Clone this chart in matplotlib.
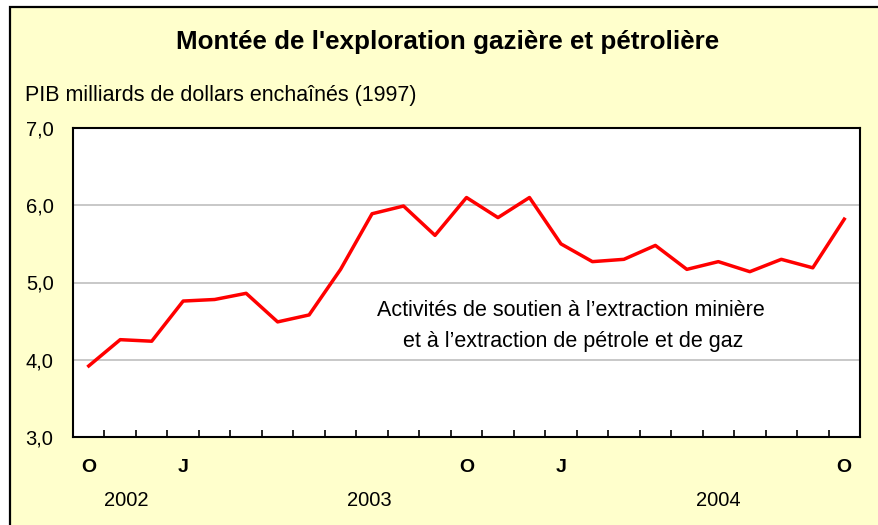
import matplotlib.pyplot as plt
from matplotlib.patches import Rectangle

plt.rcParams['font.family'] = ['Liberation Sans', 'DejaVu Sans']

# Monthly data, Oct 2002 - Oct 2004
values = [3.92, 4.26, 4.24, 4.76, 4.78, 4.86, 4.49, 4.58, 5.17, 5.89, 5.99, 5.61,
          6.10, 5.84, 6.10, 5.50, 5.27, 5.30, 5.48, 5.17, 5.27, 5.14, 5.30, 5.19, 5.82]
month_labels = {0: 'O', 3: 'J', 12: 'O', 15: 'J', 24: 'O'}
years = ['2002', '2003', '2004']
year_pos = [1.2, 8.9, 20.0]
y_ticks = [3.0, 4.0, 5.0, 6.0, 7.0]
note = ["Activités de soutien à l’extraction minière",
        "et à l’extraction de pétrole et de gaz"]

W, H = 879, 525
fig = plt.figure(figsize=(W / 100, H / 100), dpi=100)
fig.patch.set_facecolor('white')

# yellow panel with black border on left/top
fig.patches.append(Rectangle((10 / W, -0.1), 1.2, 1.1 - 7 / H, transform=fig.transFigure,
                             facecolor='#FFFFCC', edgecolor='black', lw=1.6, zorder=0))

ax = fig.add_axes([73 / W, 1 - 437 / H, (860 - 73) / W, (437 - 128) / H])
ax.set_zorder(2)
ax.set_facecolor('white')

x = range(len(values))
ax.plot(x, values, color='#FF0000', lw=2.5, zorder=3)

ax.set_xlim(-0.5, len(values) - 0.5)
ax.set_ylim(3, 7)
ax.set_yticks(y_ticks)
ax.set_yticklabels([f'{v:.1f}'.replace('.', ',') for v in y_ticks], fontsize=14.5)
ax.tick_params(axis='y', length=0, pad=14)
for v in y_ticks[1:-1]:
    ax.axhline(v, color='#BFBFBF', lw=1.2, zorder=1)

ax.set_xticks([i + 0.5 for i in range(len(values) - 1)])
ax.set_xticklabels([])
ax.tick_params(axis='x', direction='in', length=5, width=1.2, color='black')
for s in ax.spines.values():
    s.set_color('black')
    s.set_linewidth(1.5)

step = 787 / len(values)
for i, lab in month_labels.items():
    fig.text((73 + (i + 0.5) * step) / W, 1 - 468 / H, lab, ha='center', va='center',
             fontsize=14, fontweight='bold')
for p, yr in zip(year_pos, years):
    fig.text((73 + (p + 0.5) * step) / W, 1 - 500 / H, yr, ha='center', va='center',
             fontsize=14.5)

ax.text(15.3, 4.64, note[0], ha='center', va='center', fontsize=15.5)
ax.text(15.4, 4.23, note[1], ha='center', va='center', fontsize=15.5)

fig.text(448 / W, 1 - 42 / H, "Montée de l'exploration gazière et pétrolière",
         ha='center', va='center', fontsize=18.7, fontweight='bold')
fig.text(25 / W, 1 - 95 / H, 'PIB milliards de dollars enchaînés (1997)',
         ha='left', va='center', fontsize=15.5)

fig.savefig('out.png', dpi=100, facecolor=fig.get_facecolor())
